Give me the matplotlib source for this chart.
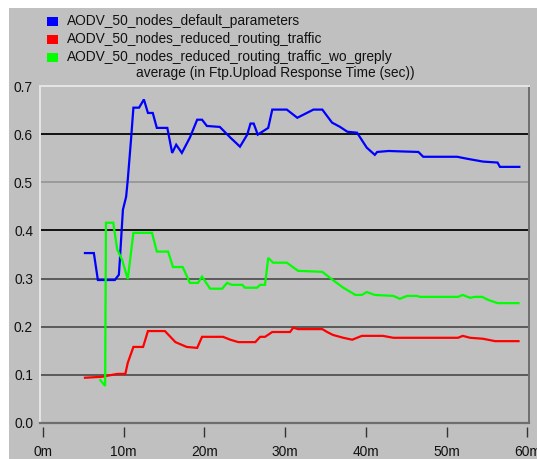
#!/usr/bin/env python3

import matplotlib
matplotlib.use('Agg')
import matplotlib.pyplot as plt
from matplotlib.patches import Rectangle

OUT_FILE = "out.png"
FONT = "Liberation Sans"
FONT_SIZE = 9.9
PANEL_GREY = "#c0c0c0"

TITLE = "average (in Ftp.Upload Response Time (sec))"

SERIES_NAMES = [
	"AODV_50_nodes_default_parameters",
	"AODV_50_nodes_reduced_routing_traffic",
	"AODV_50_nodes_reduced_routing_traffic_wo_greply",
]
SERIES_COLORS = ["#0000ff", "#ff0000", "#00ff00"]

# simulation time in minutes, response time in seconds
default_t = [5.2, 6.3, 6.8, 8.9, 9.4, 9.5, 9.9, 10.3, 10.5, 10.9, 11.2, 11.9, 12.5, 13.0,
			 13.6, 14.1, 15.4, 16.0, 16.5, 17.2, 18.2, 19.1, 19.7, 20.3, 21.9, 23.2, 24.4,
			 25.3, 25.7, 26.1, 26.6, 27.9, 28.4, 30.2, 31.5, 33.5, 34.6, 35.8, 36.8, 37.7,
			 38.9, 40.1, 41.1, 41.4, 42.8, 46.5, 47.1, 51.3, 52.5, 54.5, 56.3, 56.6, 59.0]
default_v = [0.353, 0.353, 0.297, 0.297, 0.308, 0.333, 0.443, 0.470, 0.505, 0.588, 0.655,
			 0.655, 0.672, 0.644, 0.644, 0.613, 0.613, 0.561, 0.578, 0.561, 0.593, 0.630,
			 0.630, 0.617, 0.615, 0.593, 0.574, 0.599, 0.622, 0.622, 0.599, 0.613, 0.651,
			 0.651, 0.634, 0.651, 0.651, 0.624, 0.615, 0.605, 0.603, 0.572, 0.557, 0.563,
			 0.565, 0.563, 0.553, 0.553, 0.549, 0.543, 0.541, 0.532, 0.532]

reduced_t = [5.2, 7.3, 9.2, 10.2, 10.5, 11.2, 12.4, 13.0, 15.1, 16.4, 17.8, 19.1, 19.7,
			 22.3, 23.2, 24.2, 26.3, 26.9, 27.5, 28.4, 30.6, 31.0, 31.6, 34.6, 35.2, 35.9,
			 37.2, 38.3, 38.9, 39.5, 42.1, 43.4, 51.4, 52.0, 52.9, 54.5, 56.0, 58.9]
reduced_v = [0.094, 0.096, 0.102, 0.102, 0.125, 0.158, 0.158, 0.191, 0.191, 0.168, 0.158,
			 0.156, 0.179, 0.179, 0.173, 0.168, 0.168, 0.179, 0.179, 0.189, 0.189, 0.198,
			 0.195, 0.195, 0.189, 0.183, 0.177, 0.173, 0.177, 0.181, 0.181, 0.177, 0.177,
			 0.181, 0.177, 0.175, 0.170, 0.170]

wo_greply_t = [7.1, 7.7, 7.8, 8.7, 9.2, 9.8, 10.5, 11.2, 13.5, 14.1, 15.5, 16.1, 17.3, 18.2,
			   19.2, 19.7, 20.7, 22.2, 22.8, 23.4, 24.7, 25.0, 26.5, 26.9, 27.5, 27.9, 28.5,
			   30.2, 31.6, 34.6, 35.9, 37.2, 38.7, 39.5, 40.1, 41.1, 43.4, 44.2, 45.1, 46.3,
			   46.7, 51.4, 52.0, 52.9, 53.5, 54.4, 55.1, 56.3, 58.9]
wo_greply_v = [0.089, 0.077, 0.416, 0.416, 0.360, 0.339, 0.299, 0.395, 0.395, 0.356, 0.356,
			   0.324, 0.324, 0.291, 0.291, 0.304, 0.279, 0.279, 0.291, 0.287, 0.287, 0.281,
			   0.281, 0.287, 0.287, 0.343, 0.333, 0.333, 0.316, 0.314, 0.297, 0.281, 0.266,
			   0.266, 0.272, 0.266, 0.264, 0.258, 0.264, 0.264, 0.262, 0.262, 0.266, 0.260,
			   0.262, 0.262, 0.256, 0.249, 0.249]

x_ticks = [0, 10, 20, 30, 40, 50, 60]
x_tick_labels = ["0m", "10m", "20m", "30m", "40m", "50m", "60m"]
y_ticks = [0.0, 0.1, 0.2, 0.3, 0.4, 0.5, 0.6, 0.7]

# horizontal rule colour for each y tick (0.0 and 0.7 are the frame itself)
GRID_COLORS = [None, "#5a5a5a", "#5a5a5a", "#5a5a5a", "#111111", "#9a9a9a", "#111111", None]


def main():
	plt.rcParams.update({'font.family': [FONT, 'DejaVu Sans'], 'font.size': FONT_SIZE})

	W, H = 537, 459
	fig = plt.figure(figsize=(W / 100, H / 100), dpi=100, facecolor="white")

	# grey window panel behind everything
	fig.patches.append(Rectangle((9 / W, 0), 1, (H - 8) / H, transform=fig.transFigure,
								 facecolor=PANEL_GREY, edgecolor="none", zorder=-10))

	ax = fig.add_axes([40 / W, (H - 423) / H, (529 - 40) / W, (423 - 86) / H])
	ax.set_zorder(1)
	ax.set_facecolor(PANEL_GREY)
	ax.set_xlim(-0.37, 60.2)
	ax.set_ylim(0, 0.7)

	for y, c in zip(y_ticks, GRID_COLORS):
		if c is not None:
			ax.axhline(y, color=c, linewidth=1.4, zorder=1)

	series = [(default_t, default_v), (reduced_t, reduced_v), (wo_greply_t, wo_greply_v)]
	for (t, v), color in zip(series, SERIES_COLORS):
		ax.plot(t, v, color=color, linewidth=1.6, solid_joinstyle='miter', zorder=3)

	# sunken frame: light top/left, dark bottom/right
	ax.spines['top'].set_color("#e6e6e6")
	ax.spines['left'].set_color("#e6e6e6")
	ax.spines['right'].set_color("#6e6e6e")
	ax.spines['bottom'].set_visible(False)
	ax.axhline(0, color="#6e6e6e", linewidth=1.6, zorder=4, clip_on=False)
	for s in ('top', 'left', 'right'):
		ax.spines[s].set_linewidth(1.4)
	ax.spines['bottom'].set_position(('outward', 3))

	ax.set_xticks(x_ticks)
	ax.set_xticklabels(x_tick_labels)
	ax.tick_params(axis='x', direction='out', length=7, width=1.0, color="#333333", pad=6,
				   labelcolor="#111111")
	ax.set_yticks(y_ticks)
	ax.set_yticklabels(["{:.1f}".format(y) for y in y_ticks])
	ax.tick_params(axis='y', length=0, pad=5, labelcolor="#111111")

	# legend block above the plot
	rows_y = [21, 39, 57]
	for name, color, ry in zip(SERIES_NAMES, SERIES_COLORS, rows_y):
		fig.patches.append(Rectangle((47 / W, 1 - (ry + 5) / H), 11 / W, 9 / H,
									 transform=fig.transFigure, facecolor=color,
									 edgecolor="none", zorder=2))
		fig.text(67 / W, 1 - ry / H, name, ha='left', va='center', color="#111111")
	fig.text(275 / W, 1 - 73 / H, TITLE, ha='center', va='center', color="#111111")

	plt.savefig(OUT_FILE, dpi=100, facecolor=fig.get_facecolor())


if __name__ == "__main__":
	main()
